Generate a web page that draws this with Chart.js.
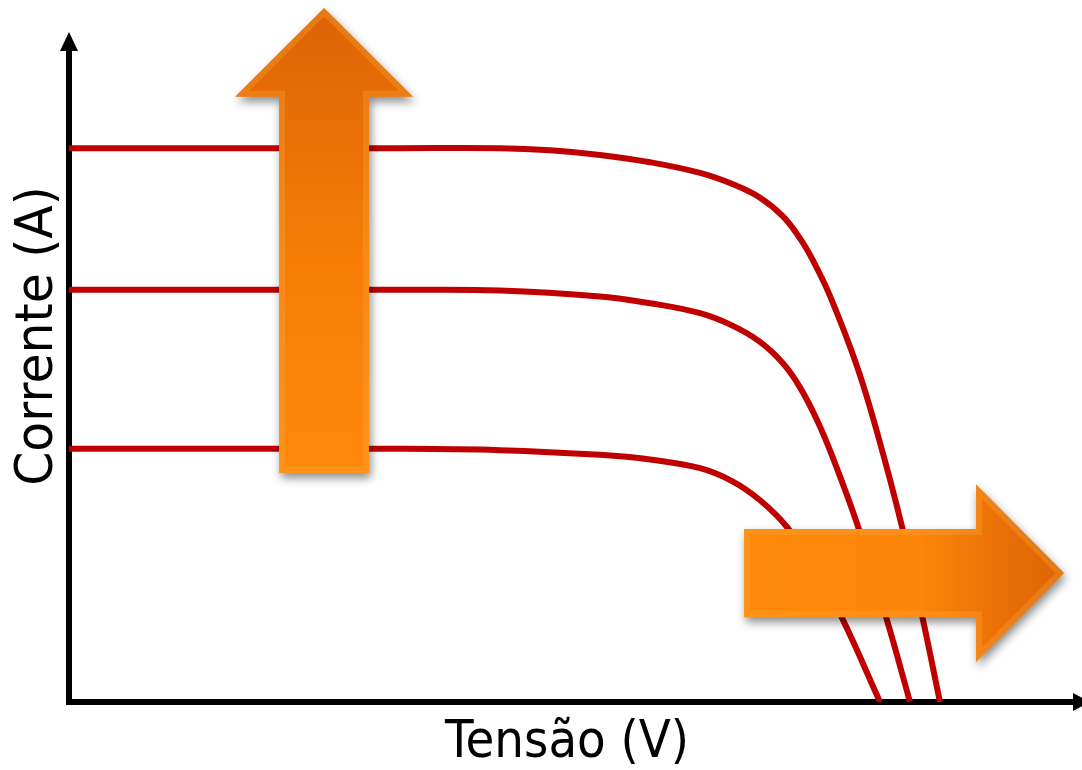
<!DOCTYPE html>
<html lang="pt">
<head>
<meta charset="utf-8">
<title>Curvas I-V</title>
<script src="https://cdn.jsdelivr.net/npm/chart.js@4.4.1/dist/chart.umd.min.js"></script>
<style>
    html, body { margin: 0; padding: 0; background: #fff; }
    #wrap { position: relative; width: 1082px; height: 770px; }
</style>
</head>
<body>
<div id="wrap"><canvas id="ivChart"></canvas></div>
<script>
// I-V curves for three irradiance levels (voltage in V, current in A)
const tensaoAlta = [0, 16.34, 21.27, 23.74, 26.21, 28.68, 31.15, 32.77, 34.11, 35.24, 36.08, 36.72, 37.56, 38.89, 39.93, 41.12, 42.15, 42.99];
const correnteAlta = [8.29, 8.29, 8.29, 8.26, 8.19, 8.08, 7.92, 7.75, 7.55, 7.27, 6.94, 6.61, 6.08, 5.03, 3.99, 2.62, 1.23, 0];

const tensaoMedia = [0, 16.34, 21.27, 26.21, 28.68, 31.15, 32.77, 34.11, 35.24, 36.08, 36.92, 37.71, 38.94, 40.37, 41.51];
const correnteMedia = [6.17, 6.17, 6.16, 6.07, 5.97, 5.82, 5.63, 5.39, 5.07, 4.71, 4.22, 3.65, 2.63, 1.23, 0];

const tensaoBaixa = [0, 16.34, 21.27, 26.21, 28.68, 31.15, 32.77, 34.11, 35.44, 36.82, 38.20, 40.03];
const correnteBaixa = [3.79, 3.79, 3.77, 3.70, 3.63, 3.50, 3.30, 3.02, 2.62, 2.01, 1.23, 0];

const tituloX = 'Tensão (V)';
const tituloY = 'Corrente (A)';

const corCurva = '#c00000';

function toPoints(xs, ys) {
    return xs.map((x, i) => ({ x: x, y: ys[i] }));
}

function curveDataset(xs, ys) {
    return {
        data: toPoints(xs, ys),
        borderColor: corCurva,
        borderWidth: 6,
        borderJoinStyle: 'round',
        pointRadius: 0,
        fill: false,
        tension: 0.4
    };
}

// block arrows, placed in data units (x: V, y: A)
const setaCorrente = { cx: 12.59, shaftHalf: 2.22, headHalf: 4.39, yBase: 3.43, yHead: 9.06, yTip: 10.39 };
const setaTensao = { cy: 1.93, shaftHalf: 0.66, headHalf: 1.33, xBase: 33.32, xHead: 44.77, xTip: 49.11 };

function fillArrow(ctx, path, gradient) {
    ctx.save();
    // drop shadow
    ctx.shadowColor = 'rgba(0, 0, 0, 0.45)';
    ctx.shadowBlur = 10;
    ctx.shadowOffsetX = 2;
    ctx.shadowOffsetY = 5;
    ctx.fillStyle = gradient;
    ctx.fill(path);
    ctx.restore();

    // soft bevel along the inside of the outline
    ctx.save();
    ctx.clip(path);
    ctx.lineJoin = 'miter';
    ctx.lineWidth = 12;
    ctx.strokeStyle = 'rgba(255, 170, 60, 0.3)';
    ctx.stroke(path);
    ctx.restore();
}

const ivDecor = {
    id: 'ivDecor',
    beforeDatasetsDraw(chart) {
        const { ctx, chartArea } = chart;
        const { left, right, top, bottom } = chartArea;
        ctx.save();
        ctx.strokeStyle = '#000';
        ctx.fillStyle = '#000';
        ctx.lineWidth = 6;
        ctx.lineCap = 'butt';

        // vertical axis with arrow
        ctx.beginPath();
        ctx.moveTo(left, bottom + 3);
        ctx.lineTo(left, top + 16);
        ctx.stroke();
        ctx.beginPath();
        ctx.moveTo(left, top - 2);
        ctx.lineTo(left - 9, top + 17);
        ctx.lineTo(left + 9, top + 17);
        ctx.closePath();
        ctx.fill();

        // horizontal axis with arrow
        ctx.beginPath();
        ctx.moveTo(left - 3, bottom);
        ctx.lineTo(right - 8, bottom);
        ctx.stroke();
        ctx.beginPath();
        ctx.moveTo(right + 8, bottom);
        ctx.lineTo(right - 9, bottom - 9);
        ctx.lineTo(right - 9, bottom + 9);
        ctx.closePath();
        ctx.fill();

        // axis titles
        ctx.font = '52px "DejaVu Sans"';
        ctx.textAlign = 'center';
        ctx.textBaseline = 'alphabetic';

        ctx.save();
        ctx.translate(567, bottom + 55);
        ctx.scale(0.9, 1);
        ctx.fillText(tituloX, 0, 0);
        ctx.restore();

        ctx.save();
        ctx.translate(left - 17, 336);
        ctx.rotate(-Math.PI / 2);
        ctx.scale(0.94, 1);
        ctx.fillText(tituloY, 0, 0);
        ctx.restore();

        ctx.restore();
    },
    afterDatasetsDraw(chart) {
        const { ctx } = chart;
        const xs = chart.scales.x;
        const ys = chart.scales.y;

        // upward arrow (current rises)
        const a = setaCorrente;
        const cx = xs.getPixelForValue(a.cx);
        const sh = xs.getPixelForValue(a.cx + a.shaftHalf) - cx;
        const hh = xs.getPixelForValue(a.cx + a.headHalf) - cx;
        const yb = ys.getPixelForValue(a.yBase);
        const yh = ys.getPixelForValue(a.yHead);
        const yt = ys.getPixelForValue(a.yTip);
        const up = new Path2D();
        up.moveTo(cx - sh, yb);
        up.lineTo(cx - sh, yh);
        up.lineTo(cx - hh, yh);
        up.lineTo(cx, yt);
        up.lineTo(cx + hh, yh);
        up.lineTo(cx + sh, yh);
        up.lineTo(cx + sh, yb);
        up.closePath();
        const gUp = ctx.createLinearGradient(0, yb, 0, yt);
        gUp.addColorStop(0, '#ff890b');
        gUp.addColorStop(0.45, '#f77d08');
        gUp.addColorStop(0.8, '#e66c05');
        gUp.addColorStop(1, '#dc6303');
        fillArrow(ctx, up, gUp);

        // rightward arrow (voltage rises)
        const b = setaTensao;
        const cy = ys.getPixelForValue(b.cy);
        const vh = cy - ys.getPixelForValue(b.cy + b.shaftHalf);
        const vhh = cy - ys.getPixelForValue(b.cy + b.headHalf);
        const xb = xs.getPixelForValue(b.xBase);
        const xh = xs.getPixelForValue(b.xHead);
        const xt = xs.getPixelForValue(b.xTip);
        const right = new Path2D();
        right.moveTo(xb, cy - vh);
        right.lineTo(xh, cy - vh);
        right.lineTo(xh, cy - vhh);
        right.lineTo(xt, cy);
        right.lineTo(xh, cy + vhh);
        right.lineTo(xh, cy + vh);
        right.lineTo(xb, cy + vh);
        right.closePath();
        const gRight = ctx.createLinearGradient(xb, 0, xt, 0);
        gRight.addColorStop(0, '#ff890b');
        gRight.addColorStop(0.55, '#fd850a');
        gRight.addColorStop(0.8, '#ea7007');
        gRight.addColorStop(1, '#dc6403');
        fillArrow(ctx, right, gRight);
    }
};

const ctx = document.getElementById('ivChart').getContext('2d');
const ivChart = new Chart(ctx, {
    type: 'line',
    data: {
        datasets: [
            curveDataset(tensaoAlta, correnteAlta),
            curveDataset(tensaoMedia, correnteMedia),
            curveDataset(tensaoBaixa, correnteBaixa)
        ]
    },
    options: {
        responsive: true,
        maintainAspectRatio: false,
        animation: false,
        devicePixelRatio: 1,
        layout: { padding: { left: 69, top: 34, right: 0, bottom: 68 } },
        scales: {
            x: { type: 'linear', min: 0, max: 50, display: false },
            y: { type: 'linear', min: 0, max: 10, display: false }
        },
        plugins: {
            legend: { display: false },
            tooltip: { enabled: false },
            title: { display: false }
        }
    },
    plugins: [ivDecor]
});
</script>
</body>
</html>
